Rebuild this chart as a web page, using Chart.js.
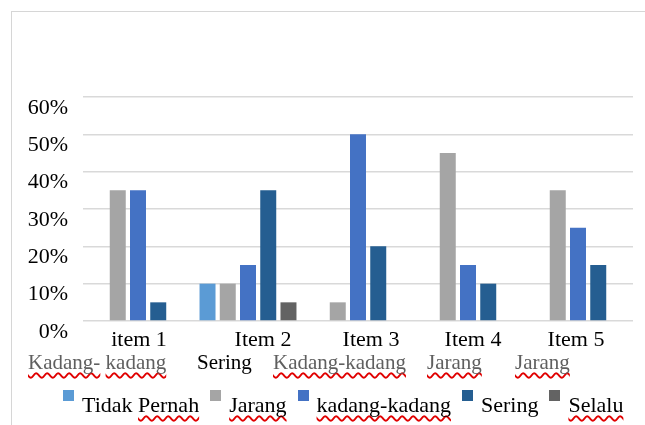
<!DOCTYPE html>
<html lang="id">
<head>
  <meta charset="UTF-8" />
  <title>Grafik Item</title>
  <script src="https://cdn.jsdelivr.net/npm/chart.js"></script>
  <style>
    body { margin: 0; background: #fff; font-family: "Liberation Serif", "Times New Roman", serif; color: #000; }
    .page { position: relative; width: 645px; height: 425px; overflow: hidden; }
    .frame { position: absolute; left: 11px; top: 11px; width: 640px; height: 420px;
             border-left: 1.5px solid #d6d6d6; border-top: 1.5px solid #d6d6d6; }
    canvas { position: absolute; left: 0; top: 0; }
    .answer { position: absolute; top: 352px; font-size: 21px; line-height: 21px; white-space: nowrap; color: #5f5f5f; }
    .answer.plain { color: #000; }
    .legend { position: absolute; left: 63px; top: 394px; display: flex; font-size: 22px; line-height: 22px; white-space: nowrap; }
    .legend .item { display: flex; align-items: flex-start; margin-right: 11px; }
    .legend .box { width: 11px; height: 11px; margin-top: -4px; margin-right: 8px; }
    .spell { text-decoration: underline wavy #e00000; text-decoration-skip-ink: none;
             text-decoration-thickness: 1.5px; text-underline-offset: 3px; }
  </style>
</head>
<body>
  <div class="page">
    <div class="frame"></div>
    <canvas id="chart" width="645" height="425"></canvas>
    <div id="answers"></div>
    <div id="legend" class="legend"></div>
  </div>

  <script>
    // data (percent)
    const categories = ['item 1', 'Item 2', 'Item 3', 'Item 4', 'Item 5'];
    const tidakPernah = [0, 10, 0, 0, 0];
    const jarang = [35, 10, 5, 45, 35];
    const kadangKadang = [35, 15, 50, 15, 25];
    const sering = [5, 35, 20, 10, 15];
    const selalu = [0, 5, 0, 0, 0];
    const seriesNames = ['Tidak Pernah', 'Jarang', 'kadang-kadang', 'Sering', 'Selalu'];
    const yTicks = [0, 10, 20, 30, 40, 50, 60];
    const answers = ['Kadang- kadang', 'Sering', 'Kadang-kadang', 'Jarang', 'Jarang'];

    // look
    const colors = ['#5b9bd5', '#a5a5a5', '#4472c4', '#255e91', '#636363'];
    const labelNudge = [1, 15, 13, 5, -2];
    const answerLeft = [28, 197, 273, 427, 515];
    const correctWords = ['Tidak', 'Sering'];
    const serif = '"Liberation Serif", "Times New Roman", serif';

    // words the spell checker flagged get the red squiggle
    function markWords(text) {
      return text.split(' ').map(w =>
        correctWords.includes(w) ? w : '<span class="spell">' + w + '</span>'
      ).join(' ');
    }

    const answersEl = document.getElementById('answers');
    answers.forEach((a, i) => {
      const d = document.createElement('div');
      d.className = 'answer' + (correctWords.includes(a) ? ' plain' : '');
      d.style.left = answerLeft[i] + 'px';
      d.innerHTML = markWords(a);
      answersEl.appendChild(d);
    });

    const legendEl = document.getElementById('legend');
    seriesNames.forEach((name, i) => {
      const item = document.createElement('div');
      item.className = 'item';
      item.innerHTML = '<span class="box" style="background:' + colors[i] + '"></span><span>' + markWords(name) + '</span>';
      legendEl.appendChild(item);
    });

    // category labels sit a little off the group centres in the original
    const itemLabels = {
      id: 'itemLabels',
      afterDraw(chart) {
        const { ctx, scales: { x } } = chart;
        ctx.save();
        ctx.font = '22px ' + serif;
        ctx.fillStyle = '#000';
        ctx.textAlign = 'center';
        ctx.textBaseline = 'alphabetic';
        categories.forEach((c, i) => ctx.fillText(c, x.getPixelForValue(i) + labelNudge[i], 346));
        ctx.restore();
      }
    };

    Chart.defaults.font.family = serif;

    const seriesData = [tidakPernah, jarang, kadangKadang, sering, selalu];
    new Chart(document.getElementById('chart'), {
      type: 'bar',
      data: {
        labels: categories,
        datasets: seriesNames.map((name, i) => ({
          label: name,
          data: seriesData[i],
          backgroundColor: colors[i],
          borderWidth: 0,
          categoryPercentage: 0.92,
          barPercentage: 0.79
        }))
      },
      options: {
        responsive: false,
        animation: false,
        devicePixelRatio: 1,
        layout: { padding: { left: 0, top: 97, right: 12, bottom: 104 } },
        plugins: { legend: { display: false }, tooltip: { enabled: false } },
        scales: {
          x: {
            grid: { display: false, drawTicks: false },
            border: { display: false },
            ticks: { display: false }
          },
          y: {
            min: 0,
            max: 60,
            afterBuildTicks: scale => { scale.ticks = yTicks.map(v => ({ value: v })); },
            afterFit: scale => { scale.width = 83; },
            grid: { color: '#d9d9d9', lineWidth: 1.5, drawTicks: false },
            border: { display: false },
            ticks: {
              padding: 15,
              labelOffset: 11,
              color: '#000',
              font: { size: 22 },
              callback: v => v + '%'
            }
          }
        }
      },
      plugins: [itemLabels]
    });
  </script>
</body>
</html>
